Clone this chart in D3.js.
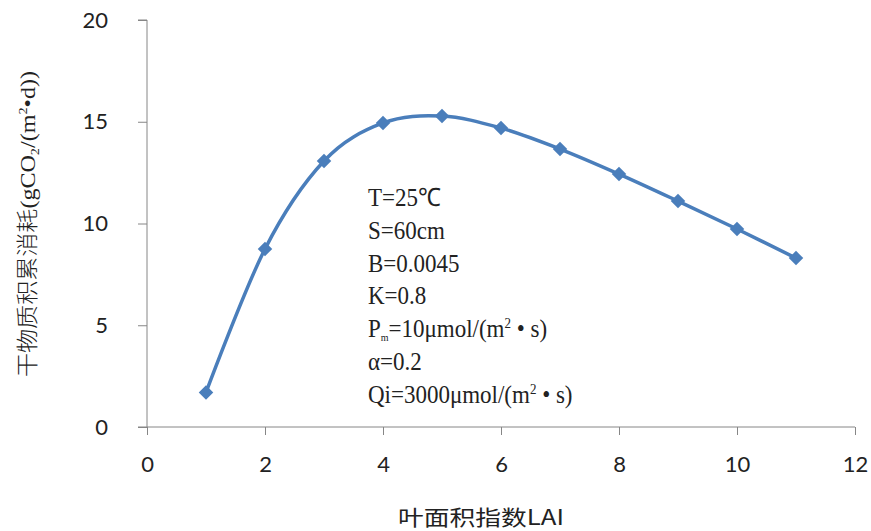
<!DOCTYPE html>
<html>
<head>
<meta charset="utf-8">
<script src="https://cdn.jsdelivr.net/npm/d3@7"></script>
<style>
body { margin: 0; background: #fff; }
svg { display: block; }
</style>
</head>
<body>
<div id="chart"></div>
<script>
// data
var lai = [1, 2, 3, 4, 5, 6, 7, 8, 9, 10, 11]
var dryMatter = [1.7, 8.75, 13.07, 14.94, 15.28, 14.69, 13.66, 12.43, 11.1, 9.73, 8.3]
var xTicks = [0, 2, 4, 6, 8, 10, 12]
var yTicks = [0, 5, 10, 15, 20]
var notes = ['T=25℃', 'S=60cm', 'B=0.0045', 'K=0.8', 'Pm', 'α=0.2', 'Qi']

var width = 871, height = 531
var margin = {top: 20, right: 16, bottom: 104, left: 147}

var svg = d3.select('#chart').append('svg')
	.attr('width', width)
	.attr('height', height)

var x = d3.scaleLinear().domain([0, 12]).range([margin.left, width - margin.right])
var y = d3.scaleLinear().domain([0, 20]).range([height - margin.bottom, margin.top])

var axisColor = '#868686'
var tickFont = 'Lato, "Open Sans", sans-serif'

// x axis
var xAxis = svg.append('g')
	.attr('transform', 'translate(0,' + y(0) + ')')
	.call(d3.axisBottom(x).tickValues(xTicks).tickSize(8).tickPadding(21).tickFormat(d3.format('d')))
xAxis.select('.domain').attr('stroke', axisColor).attr('d', 'M' + x(0) + ',0H' + x(12))
xAxis.selectAll('.tick line').attr('stroke', axisColor)
xAxis.selectAll('.tick text').attr('fill', '#222').style('font-family', tickFont).style('font-size', '22px')

// y axis
var yAxis = svg.append('g')
	.attr('transform', 'translate(' + x(0) + ',0)')
	.call(d3.axisLeft(y).tickValues(yTicks).tickSize(9).tickPadding(30))
yAxis.select('.domain').attr('stroke', axisColor).attr('d', 'M-9,' + y(20) + 'H0V' + y(0) + 'H-9')
yAxis.selectAll('.tick line').attr('stroke', axisColor)
yAxis.selectAll('.tick text').attr('fill', '#222').style('font-family', tickFont).style('font-size', '22px')

// axis titles
svg.append('text')
	.attr('x', 398)
	.attr('y', 525)
	.attr('textLength', 166)
	.attr('lengthAdjust', 'spacingAndGlyphs')
	.attr('fill', '#222')
	.style('font-family', '"Noto Sans CJK SC", sans-serif')
	.style('font-size', '21px')
	.text('叶面积指数LAI')

var yTitle = svg.append('text')
	.attr('transform', 'translate(35,377) rotate(-90)')
	.attr('textLength', 306)
	.attr('lengthAdjust', 'spacingAndGlyphs')
	.attr('fill', '#222')
	.style('font-family', '"Liberation Serif", "Noto Sans CJK SC", serif')
	.style('font-size', '22px')
yTitle.append('tspan').style('font-family', '"Noto Sans CJK SC", sans-serif').style('font-weight', 300).text('干物质积累消耗')
yTitle.append('tspan').text('(gCO')
yTitle.append('tspan').attr('font-size', '13px').attr('dy', 4).text('2')
yTitle.append('tspan').attr('dy', -4).text('/(m')
yTitle.append('tspan').attr('font-size', '13px').attr('dy', -8).text('2')
yTitle.append('tspan').attr('dy', 8).text('•d))')

// series
var pts = lai.map(function(d, i) { return [d, dryMatter[i]] })
var line = d3.line()
	.x(function(d) { return x(d[0]) })
	.y(function(d) { return y(d[1]) })
	.curve(d3.curveCardinal.tension(0))

svg.append('path')
	.datum(pts)
	.attr('fill', 'none')
	.attr('stroke', '#4a7ebb')
	.attr('stroke-width', 3.5)
	.attr('d', line)

// diamond markers
svg.selectAll('.marker').data(pts).enter().append('path')
	.attr('class', 'marker')
	.attr('d', d3.symbol().type(d3.symbolSquare).size(105))
	.attr('transform', function(d) { return 'translate(' + x(d[0]) + ',' + y(d[1]) + ') rotate(45)' })
	.attr('fill', '#4a7ebb')

// parameter notes
var noteG = svg.append('g').attr('fill', '#222')
	.style('font-family', '"Liberation Serif", "Times New Roman", serif')
	.style('font-size', '23px')
notes.forEach(function(n, i) {
	var t = noteG.append('text')
		.attr('transform', 'translate(368,' + (206 + i * 32.8) + ') scale(1,1.1)')
	if (n == 'Pm') {
		t.append('tspan').text('P')
		t.append('tspan').attr('font-size', '10px').attr('dy', 3).text('m')
		t.append('tspan').attr('dy', -3).text('=10μmol/(m')
		t.append('tspan').attr('font-size', '13px').attr('dy', -8).text('2')
		t.append('tspan').attr('dy', 8).text(' • s)')
	} else if (n == 'Qi') {
		t.append('tspan').text('Qi=3000μmol/(m')
		t.append('tspan').attr('font-size', '13px').attr('dy', -8).text('2')
		t.append('tspan').attr('dy', 8).text(' • s)')
	} else {
		t.text(n)
	}
})
</script>
</body>
</html>
